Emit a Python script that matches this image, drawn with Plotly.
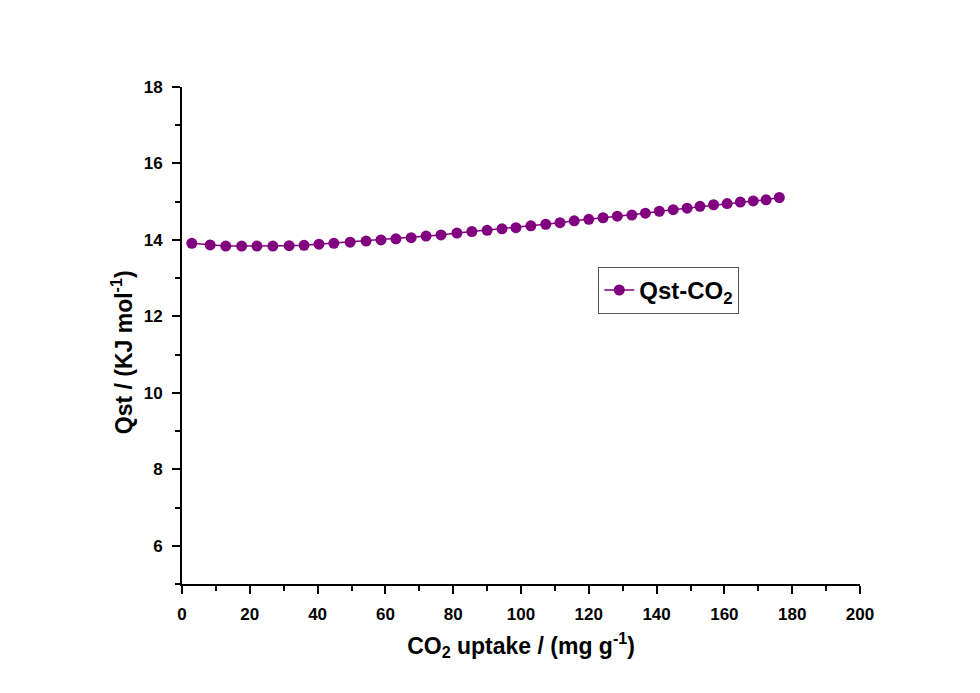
import plotly.graph_objects as go

uptake = [2.9, 8.3, 12.9, 17.6, 22.1, 26.8, 31.6, 36.0, 40.4, 44.8, 49.6, 54.3, 58.7, 63.1,
          67.6, 72.0, 76.4, 81.1, 85.5, 90.0, 94.4, 98.5, 102.9, 107.3, 111.5, 115.7, 120.0,
          124.2, 128.4, 132.7, 136.7, 140.8, 144.9, 149.0, 152.8, 156.8, 160.8, 164.7,
          168.5, 172.3, 176.2]
qst = [13.91, 13.87, 13.84, 13.84, 13.84, 13.84, 13.85, 13.86, 13.89, 13.91, 13.94, 13.97,
       14.00, 14.03, 14.06, 14.10, 14.13, 14.18, 14.22, 14.25, 14.29, 14.32, 14.37, 14.41,
       14.45, 14.50, 14.54, 14.58, 14.62, 14.65, 14.70, 14.75, 14.79, 14.83, 14.88, 14.92,
       14.95, 14.99, 15.02, 15.05, 15.11]

x_title = "CO<sub>2</sub> uptake / (mg g<sup>-1</sup>)"
y_title = "Qst / (KJ mol<sup>-1</sup>)"

purple = "#800080"
fig = go.Figure()
fig.add_trace(go.Scatter(
    x=uptake, y=qst, mode="lines+markers", name="Qst-CO<sub>2</sub>",
    line=dict(color=purple, width=1.5),
    marker=dict(color=purple, size=11),
))

font_family = "Liberation Sans, Arial, sans-serif"
axis_common = dict(
    showline=True, linecolor="black", linewidth=2,
    ticks="outside", ticklen=8, tickwidth=2, tickcolor="black",
    showgrid=False, zeroline=False, mirror=False,
    tickfont=dict(family=font_family, size=17, color="black", weight="bold"),
)
fig.update_layout(
    width=980, height=693,
    paper_bgcolor="white", plot_bgcolor="white",
    margin=dict(l=182, r=120, t=87, b=109),
    font=dict(family=font_family, color="black"),
    xaxis=dict(range=[0, 200], tickmode="linear", tick0=0, dtick=20,
               minor=dict(ticks="outside", ticklen=5, tickwidth=2, tickcolor="black", dtick=10),
               ticklabelstandoff=6,
               title=dict(text=x_title, standoff=14,
                          font=dict(family=font_family, size=23, color="black", weight="bold")),
               **axis_common),
    yaxis=dict(range=[5, 18], tickmode="linear", tick0=6, dtick=2,
               minor=dict(ticks="outside", ticklen=5, tickwidth=2, tickcolor="black", dtick=1, tick0=5),
               ticklabelstandoff=6,
               **axis_common),
    annotations=[dict(text=y_title, textangle=-90, xref="paper", yref="paper",
                      x=-0.088, y=0.467, xanchor="center", yanchor="middle", showarrow=False,
                      font=dict(family=font_family, size=23, color="black", weight="bold"))],
    showlegend=True,
    legend=dict(x=0.614, y=0.638, xanchor="left", yanchor="top",
                bordercolor="#555555", borderwidth=1, bgcolor="white",
                font=dict(family=font_family, size=24, color="black", weight="bold")),
)
fig.write_html("out.html")
